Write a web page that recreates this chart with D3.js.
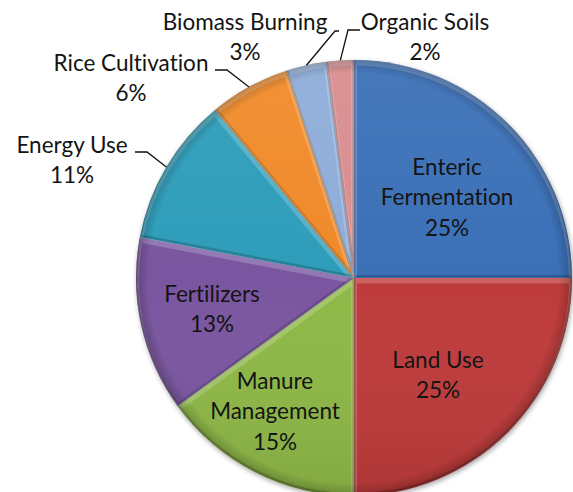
<!DOCTYPE html>
<html>
<head>
<meta charset="utf-8">
<script src="https://cdn.jsdelivr.net/npm/d3@7/dist/d3.min.js"></script>
<style>
  html, body { margin: 0; padding: 0; background: #fff; }
  svg { display: block; }
  text { font-family: Lato, "Open Sans", sans-serif; fill: #141414; font-variant-ligatures: none; font-feature-settings: "liga" 0; }
</style>
</head>
<body>
<svg id="chart" width="573" height="492"></svg>
<script>
// ---- data ----
const categories = ["Enteric Fermentation", "Land Use", "Manure Management", "Fertilizers",
                    "Energy Use", "Rice Cultivation", "Biomass Burning", "Organic Soils"];
const values = [25, 25, 15, 13, 11, 6, 3, 2];
const labelLines = [["Enteric", "Fermentation"], ["Land Use"], ["Manure", "Management"], ["Fertilizers"],
                    ["Energy Use"], ["Rice Cultivation"], ["Biomass Burning"], ["Organic Soils"]];

// ---- styles / layout ----
const colors = ["#3A6FB7", "#BE3B3A", "#8EB847", "#7A57A0", "#2F9DBA", "#F08A2A", "#8EADD9", "#D98D8F"];
const W = 573, H = 492;
const cx = 354, cy = 278, R = 218;
const fontSize = 22.5, lineH = 30.5;
const labelLayout = [
  { x: 447, y: 167, inside: true },
  { x: 438, y: 360, inside: true },
  { x: 275, y: 381, inside: true },
  { x: 212, y: 294, inside: true },
  { x: 72,  y: 145, elbow: [147, 152], end: [135, 152] },
  { x: 131, y: 63,  elbow: [227, 70],  end: [215, 70] },
  { x: 245, y: 22,  elbow: [335, 31],  end: [339, 31] },
  { x: 425, y: 22,  elbow: [348, 30],  end: [360, 30] }
];

const svg = d3.select("#chart");
const defs = svg.append("defs");

const data = categories.map((c, i) => ({ name: c, value: values[i], i }));
const pie = d3.pie().sort(null).value(d => d.value);
const arcs = pie(data);
const arc = d3.arc().innerRadius(0).outerRadius(R);

// drop shadow filter
const f = defs.append("filter").attr("id", "shadow").attr("x", "-10%").attr("y", "-10%").attr("width", "120%").attr("height", "120%");
f.append("feGaussianBlur").attr("in", "SourceAlpha").attr("stdDeviation", 2.5);
f.append("feOffset").attr("dx", 1).attr("dy", 2).attr("result", "ob");
f.append("feComponentTransfer").append("feFuncA").attr("type", "linear").attr("slope", 0.35);
const fm = f.append("feMerge");
fm.append("feMergeNode");
fm.append("feMergeNode").attr("in", "SourceGraphic");

// overall shading gradient
const lg = defs.append("linearGradient").attr("id", "shade").attr("x1", 0).attr("y1", 0).attr("x2", 0).attr("y2", 1);
lg.append("stop").attr("offset", "0%").attr("stop-color", "#fff").attr("stop-opacity", 0.06);
lg.append("stop").attr("offset", "50%").attr("stop-color", "#fff").attr("stop-opacity", 0);
lg.append("stop").attr("offset", "100%").attr("stop-color", "#000").attr("stop-opacity", 0.08);

// radial darkening near rim
const rg = defs.append("radialGradient").attr("id", "rim").attr("gradientUnits", "userSpaceOnUse")
  .attr("cx", 0).attr("cy", 0).attr("r", R);
rg.append("stop").attr("offset", "0%").attr("stop-color", "#000").attr("stop-opacity", 0);
rg.append("stop").attr("offset", "94%").attr("stop-color", "#000").attr("stop-opacity", 0);
rg.append("stop").attr("offset", "100%").attr("stop-color", "#000").attr("stop-opacity", 0.22);

const g = svg.append("g").attr("transform", `translate(${cx},${cy})`);
const slicesG = g.append("g").attr("filter", "url(#shadow)");

arcs.forEach((a, i) => {
  const p = arc(a);
  defs.append("clipPath").attr("id", "clip" + i).append("path").attr("d", p);
  const sg = slicesG.append("g");
  sg.append("path").attr("d", p).attr("fill", colors[i]);
  const inner = sg.append("g").attr("clip-path", `url(#clip${i})`);
  // bevel: light band on upward-facing edges, dark band on downward-facing edges
  inner.append("path").attr("d", p).attr("fill", "none")
    .attr("transform", "translate(0,2.5)")
    .attr("stroke", "#fff").attr("stroke-opacity", 0.2).attr("stroke-width", 6)
    .attr("stroke-linejoin", "round");
  inner.append("path").attr("d", p).attr("fill", "none")
    .attr("transform", "translate(0,-1.5)")
    .attr("stroke", "#000").attr("stroke-opacity", 0.18).attr("stroke-width", 3)
    .attr("stroke-linejoin", "round");
  sg.append("path").attr("d", p).attr("fill", "url(#rim)");
});
g.append("circle").attr("r", R).attr("fill", "url(#shade)").attr("pointer-events", "none");

// labels
const lblG = svg.append("g");
arcs.forEach((a, i) => {
  const L = labelLayout[i];
  const lines = labelLines[i].concat([values[i] + "%"]);
  const t = lblG.append("text").attr("text-anchor", "middle").attr("font-size", fontSize);
  lines.forEach((ln, k) => {
    t.append("tspan").attr("x", L.x).attr("y", L.y + k * lineH).attr("dy", "0.35em").text(ln);
  });
  if (!L.inside) {
    const mid = (a.startAngle + a.endAngle) / 2;
    const ex = cx + R * Math.sin(mid), ey = cy - R * Math.cos(mid);
    lblG.append("polyline")
      .attr("points", [[ex, ey], L.elbow, L.end].map(p => p.join(",")).join(" "))
      .attr("fill", "none").attr("stroke", "#111").attr("stroke-width", 1.3);
  }
});
</script>
</body>
</html>
